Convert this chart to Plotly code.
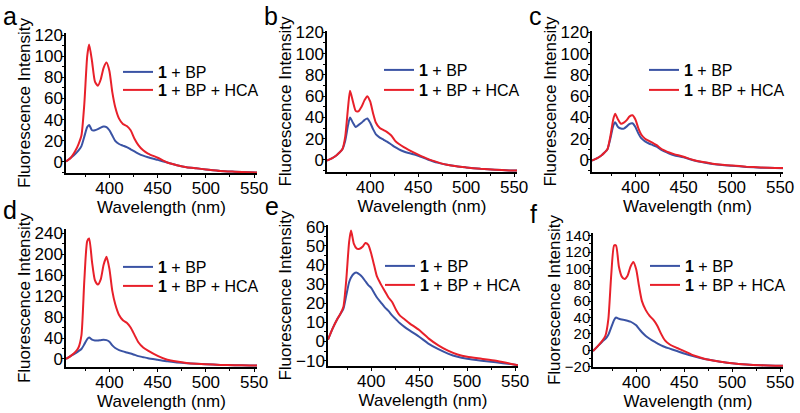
import plotly.graph_objects as go

wavelength = [355, 360, 365, 368, 371, 374, 377, 379, 382, 385, 388, 391, 394, 397, 400,
              403, 406, 410, 414, 418, 422, 426, 430, 435, 440, 450, 460, 470, 480, 490,
              500, 515, 530, 545, 553]

a_bp = [0.5, 4, 8, 11, 15, 24, 33, 35, 30, 30, 31, 32.5, 33.5, 33, 30, 25, 20, 17, 15.5, 14,
        12, 10, 8, 6, 4.5, 2, -0.5, -3, -5, -6, -7, -8.5, -9.2, -9.8, -10]
a_hca = [0.5, 4, 11, 17, 25, 55, 100, 111, 95, 76, 72, 78, 89, 94, 86, 66, 52, 41, 36, 34,
         30, 22, 16, 11, 8, 4, -0.5, -3, -5, -6, -7, -8.5, -9.2, -9.8, -10]

b_bp = [-0.5, 1.5, 4.5, 7, 10, 18, 33, 40, 35, 31, 33, 35, 37.5, 39, 35, 29, 24, 21, 19, 17,
        14.5, 12, 10, 8, 6.5, 4, 0.5, -2.5, -4.5, -6, -7, -8.3, -9.2, -9.8, -10]
b_hca = [-0.5, 1.5, 4.5, 7, 10, 22, 50, 65, 55, 46, 46, 50, 56, 60, 55, 44, 35, 30, 28, 26,
         23, 18, 15, 12, 9.5, 5, 1, -2, -4.5, -6, -7, -8.3, -9.2, -9.8, -10]

c_bp = [-0.5, 1.5, 4.5, 7, 10, 20, 32, 35.5, 31, 29.5, 29.5, 31.5, 34, 34.5, 31, 25, 20.5,
        17.5, 15.5, 14, 12.5, 10, 8, 6, 4.5, 2.5, -0.3, -2.2, -3.7, -4.7, -5.4, -6.5, -7.2,
        -7.6, -7.7]
c_hca = [-0.5, 1.5, 4.5, 7, 10, 22, 38, 43.5, 38, 34, 35, 37.5, 41, 42, 38, 30, 24, 20, 18,
         16, 14, 11, 9, 7, 5.5, 3, 0, -2, -3.5, -4.5, -5.2, -6.3, -7, -7.5, -7.6]

d_bp = [0, 6, 11, 15, 19, 28, 38, 41, 37, 35.5, 35.5, 36, 36.5, 36, 33, 26, 21, 17, 14.5,
        12.5, 10.5, 8, 5.5, 3.5, 1.5, -1.5, -4.5, -6.5, -8, -9.2, -10, -11.3, -12, -12.3, -12.4]
d_hca = [0, 6, 14, 22, 45, 150, 225, 230, 185, 150, 142, 152, 180, 195, 172, 130, 105, 84,
         74, 69, 60, 46, 32, 22, 16, 6, -1.5, -5, -7.5, -9, -10, -11.3, -12, -12.3, -12.4]

e_bp = [1, 7, 12, 14.5, 17, 24, 31, 33.5, 35.5, 36, 35, 33.5, 31.5, 29.5, 28, 25.5, 23,
        20.5, 18, 16, 13.5, 11.5, 9.5, 7.5, 5.8, 2.5, -1.2, -4, -6.3, -8, -9, -10, -10.9,
        -11.8, -12.4]
e_hca = [1, 7, 12, 14.5, 18, 32, 52, 58, 51, 48.5, 48.5, 49.5, 51.5, 50.5, 46, 40, 34, 30,
         26.5, 23, 20.5, 16.5, 13.5, 11.5, 9.5, 6, 1.5, -2, -4.8, -6.8, -8, -9, -10, -11.6,
         -12.4]

f_bp = [-1, 5, 11, 14, 19, 28, 37, 40, 38.5, 37.5, 37, 36, 35, 33, 30.5, 26, 22, 17.5, 14,
        11, 8.5, 6, 4, 2, 0, -4, -7.5, -10.5, -12.5, -14.5, -16, -17.5, -18.4, -18.9, -19]
f_hca = [-1, 5, 12, 18, 38, 92, 128, 128, 102, 90, 87, 91, 102, 108, 99, 78, 60, 49, 42,
         37, 30, 20, 12, 7, 4, -1, -6.5, -10, -12.5, -14.5, -16, -17.5, -18.4, -18.9, -19]

panel_labels = ["a", "b", "c", "d", "e", "f"]
series_names = ["<b>1</b> + BP", "<b>1</b> + BP + HCA"]
x_ticks = [400, 450, 500, 550]

BLUE = "#3a53a4"
RED = "#e8202a"
W, H = 800, 413
FONT = "Liberation Sans, Arial, sans-serif"

# panel geometry in pixels: left, right, top, bottom, y range, major dtick, legend rows,
# y tick font size
panels = [
    dict(data=(a_bp, a_hca), px=(66, 257, 33, 173), yr=(-10.4, 121.9), dt=20, leg=(72, 90), fs=17),
    dict(data=(b_bp, b_hca), px=(327, 517, 31, 172), yr=(-11.3, 121.2), dt=20, leg=(70, 90), fs=17),
    dict(data=(c_bp, c_hca), px=(592, 783, 31, 172), yr=(-11.3, 121.2), dt=20, leg=(70, 90), fs=17),
    dict(data=(d_bp, d_hca), px=(66, 257, 229, 367), yr=(-15.3, 248.2), dt=40, leg=(267, 286), fs=17),
    dict(data=(e_bp, e_hca), px=(328, 518, 225, 366), yr=(-12.8, 60.9), dt=10, leg=(266, 285), fs=17),
    dict(data=(f_bp, f_hca), px=(593, 783, 233, 367), yr=(-20.5, 143.3), dt=20, leg=(266, 285), fs=15),
]

fig = go.Figure()
layout = dict(
    width=W, height=H, margin=dict(l=0, r=0, t=0, b=0, autoexpand=False),
    paper_bgcolor="white", plot_bgcolor="white",
    font=dict(family=FONT, size=16, color="black"),
    annotations=[],
)

leg_idx = 0
for i, p in enumerate(panels):
    k = i + 1
    sfx = "" if k == 1 else str(k)
    l, r, t, b = p["px"]
    for j, (vals, color, name) in enumerate(zip(p["data"], (BLUE, RED), series_names)):
        leg_idx += 1
        leg = "legend" if leg_idx == 1 else f"legend{leg_idx}"
        fig.add_trace(go.Scatter(
            x=wavelength, y=vals, mode="lines", name=name,
            line=dict(color=color, width=2, shape="spline", smoothing=0.6),
            xaxis=f"x{sfx}", yaxis=f"y{sfx}", legend=leg, showlegend=True,
        ))
        layout[leg] = dict(
            x=(l + 52) / W, y=1 - p["leg"][j] / H, xanchor="left", yanchor="middle",
            bgcolor="rgba(0,0,0,0)", borderwidth=0, itemwidth=30,
            font=dict(size=16, family=FONT, color="black"),
        )
    common = dict(showline=True, linecolor="black", linewidth=1.5, ticks="outside",
                  ticklen=3, tickwidth=1.3, tickcolor="black", showgrid=False,
                  zeroline=False)
    layout[f"xaxis{sfx}"] = dict(
        domain=[l / W, r / W], range=[355, 553], anchor=f"y{sfx}",
        tickvals=x_ticks, ticklabelstandoff=-4, tickfont=dict(size=17, family=FONT),
        minor=dict(dtick=25, tick0=375, ticks="outside", ticklen=2.5, tickwidth=1.2,
                   tickcolor="black"),
        title=dict(text="Wavelength (nm)", font=dict(size=17, family=FONT), standoff=0),
        **common)
    layout[f"yaxis{sfx}"] = dict(
        domain=[1 - b / H, 1 - t / H], range=list(p["yr"]), anchor=f"x{sfx}",
        dtick=p["dt"], tick0=0, ticklabelstandoff=-5,
        tickfont=dict(size=p["fs"], family=FONT),
        minor=dict(dtick=p["dt"] / 2, tick0=0, ticks="outside", ticklen=2.5, tickwidth=1.2,
                   tickcolor="black"),
        title=dict(text="Fluorescence Intensity", font=dict(size=17, family=FONT), standoff=0),
        **common)
    label_top = max(t - 35, 0)
    layout["annotations"].append(dict(
        text=panel_labels[i], xref="paper", yref="paper",
        x=(l - 65) / W, y=1 - label_top / H, xanchor="left", yanchor="top",
        showarrow=False, font=dict(size=25, family=FONT, color="black"),
    ))

fig.update_layout(**layout)
fig.write_html("out.html", config={"displayModeBar": False},
               post_script="document.body.style.margin='0';")
